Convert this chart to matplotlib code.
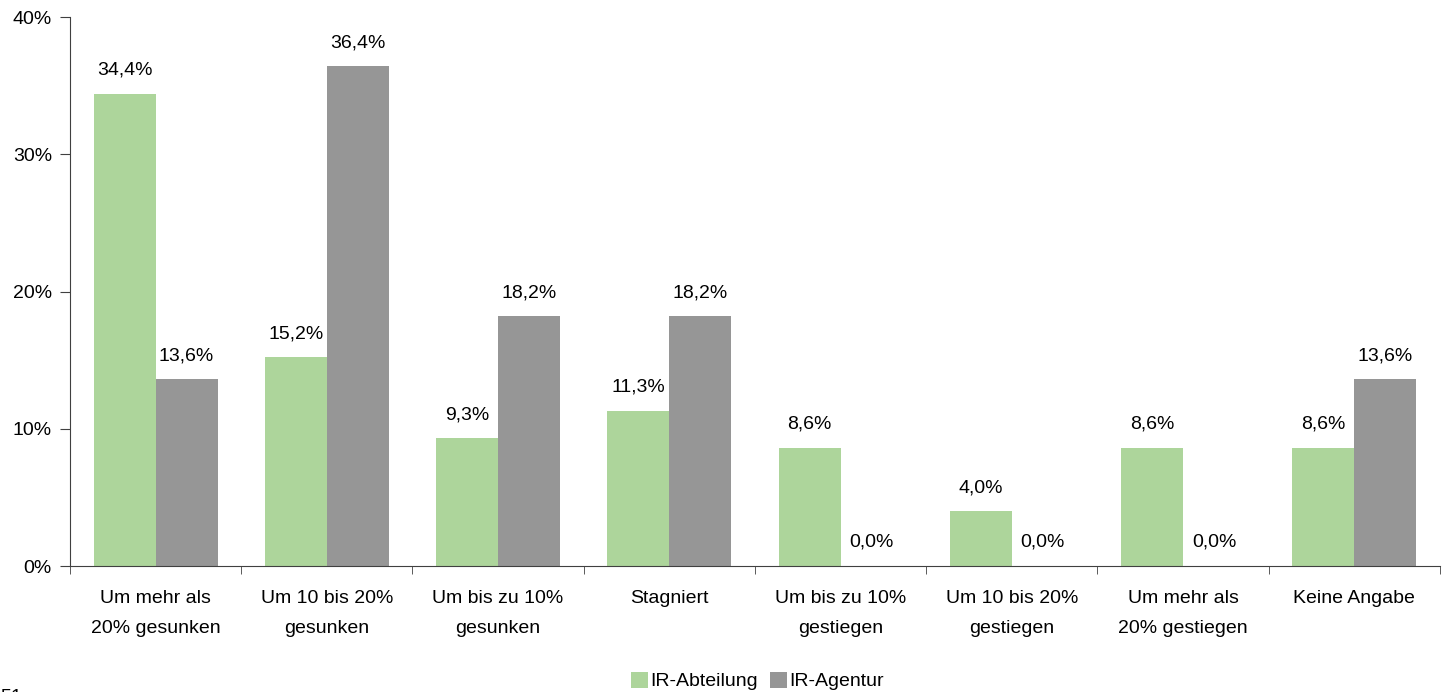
import numpy as np
import matplotlib.pyplot as plt
from matplotlib.ticker import FuncFormatter, FixedLocator

plt.rcParams['font.family'] = ['Liberation Sans', 'DejaVu Sans']

kategorien = ['Um mehr als\n20% gesunken', 'Um 10 bis 20%\ngesunken', 'Um bis zu 10%\ngesunken',
              'Stagniert', 'Um bis zu 10%\ngestiegen', 'Um 10 bis 20%\ngestiegen',
              'Um mehr als\n20% gestiegen', 'Keine Angabe']
abteilung = [34.4, 15.2, 9.3, 11.3, 8.6, 4.0, 8.6, 8.6]
agentur = [13.6, 36.4, 18.2, 18.2, 0.0, 0.0, 0.0, 13.6]

fig = plt.figure(figsize=(14.45, 6.92), dpi=100)
ax = fig.add_axes([0.0484, 0.182, 0.9481, 0.7934])

x = np.arange(len(kategorien))
w = 0.362
b1 = ax.bar(x - w / 2, abteilung, w, color='#ADD59B', label='IR-Abteilung')
b2 = ax.bar(x + w / 2, agentur, w, color='#969696', label='IR-Agentur')

for bars, vals in ((b1, abteilung), (b2, agentur)):
    for b, v in zip(bars, vals):
        ax.text(b.get_x() + b.get_width() / 2, v + 1.1, f'{v:.1f}%'.replace('.', ','),
                ha='center', va='bottom', fontsize=14)

ax.set_xlim(-0.5, len(kategorien) - 0.5)
ax.set_ylim(0, 40)
ax.set_yticks([0, 10, 20, 30, 40])
ax.yaxis.set_major_formatter(FuncFormatter(lambda v, p: f'{v:.0f}%'))
ax.set_xticks(x)
ax.set_xticklabels(kategorien, fontsize=14, linespacing=2.0)
ax.tick_params(axis='x', length=0, pad=17)
ax.xaxis.set_minor_locator(FixedLocator(np.arange(-0.5, len(kategorien), 1.0)))
ax.tick_params(axis='x', which='minor', length=6, color='#404040')
ax.tick_params(axis='y', labelsize=14, length=7, color='#404040', pad=6)
for s in ('top', 'right'):
    ax.spines[s].set_visible(False)
for s in ('left', 'bottom'):
    ax.spines[s].set_color('#404040')

fig.legend(handles=[b1, b2], loc='center', bbox_to_anchor=(0.524, 0.016), ncol=2, frameon=False,
           fontsize=14, handlelength=0.9, handleheight=0.9, handletextpad=0.1,
           columnspacing=0.6, borderpad=0)

fig.text(0.0, 0.0045, '51', fontsize=14, va='top', ha='left')

fig.savefig('out.png', dpi=100)
